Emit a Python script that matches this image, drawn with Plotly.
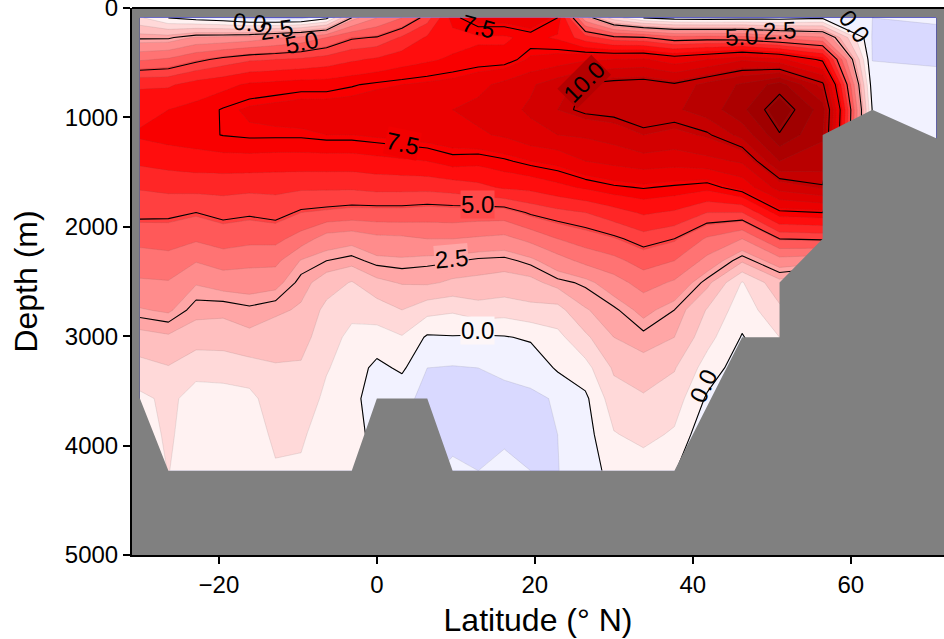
import plotly.graph_objects as go

latitudes = [-30, -26.39, -22.89, -19.47, -16.13, -12.84, -9.59, -6.38, -3.18, 0, 3.18, 6.38, 9.59, 12.84,
             16.13, 19.47, 22.89, 26.39, 30, 33.75, 37.67, 41.81, 46.24, 50.98, 56.44, 62.73, 70.81]
depths = [90, 270, 470, 700, 930, 1160, 1400, 1640, 1870, 2110, 2310, 2510, 2760, 3010, 3290, 3570, 3900, 4230]

# streamfunction (one list per latitude, top to bottom)
psi_by_lat = [
    [.8, 2.4, 4.1, 6.2, 6.75, 7.1, 6.45, 5.65, 5.2, 4.4, 3.9, 3.4, 2.75, 1.85, 1.15, .55, .4, .3],
    [0, 2.4, 4.3, 6.2, 7.0, 7.25, 6.6, 5.75, 5.15, 4.5, 3.95, 3.45, 2.9, 2.0, 1.35, .85, .8, .72],
    [-.3, 2.9, 4.8, 6.6, 7.2, 7.35, 6.7, 5.8, 5.0, 4.3, 3.55, 2.85, 2.3, 1.75, .9, .45, .35, .3],
    [-.5, 2.95, 5.2, 6.8, 7.55, 7.52, 6.75, 5.8, 5.2, 4.5, 3.85, 3.05, 2.25, 1.75, .95, .45, .35, .3],
    [-.9, 3.1, 5.5, 7.1, 7.8, 7.6, 6.75, 5.75, 5.1, 4.4, 3.7, 3.1, 2.4, 1.95, 1.1, .5, .3, .2],
    [-1, 3.4, 5.6, 7.2, 7.9, 7.6, 6.7, 5.75, 5.25, 4.4, 3.7, 3.0, 2.25, 1.65, 1.35, 1.1, .85, .62],
    [-.9, 3.7, 5.7, 7.3, 8, 7.6, 6.7, 5.7, 4.9, 3.9, 2.75, 2.35, 2.0, 1.7, 1.3, 1.1, .8, .6],
    [-.2, 4.2, 5.9, 7.3, 8, 7.7, 6.7, 5.7, 4.8, 3.15, 2.5, 1.75, 1.2, .95, .75, .55, .35, .25],
    [2.5, 4.9, 6.2, 7.45, 8, 7.7, 6.7, 5.7, 4.7, 3.0, 2.35, 1.35, .85, .55, .4, .2, .3, .3],
    [3.5, 5.05, 6.4, 7.6, 8.1, 7.8, 6.8, 5.8, 4.7, 3.3, 2.65, 1.95, 1.0, .45, -.2, -.35, -.25, -.3],
    [4.2, 5.7, 6.7, 7.7, 8.2, 7.9, 6.9, 5.8, 4.7, 3.35, 2.7, 2.15, 1.4, .65, .13, -.55, -.65, -.7],
    [5.3, 6.4, 6.9, 7.8, 8.3, 8, 7, 5.8, 4.6, 3.5, 2.6, 2.2, .95, -.1, -.7, -.85, -.85, -.8],
    [7.3, 6.7, 7.1, 7.9, 8.4, 8.1, 7.3, 5.9, 4.65, 3.5, 2.55, 2, .8, -.05, -.75, -.9, -.85, -.6],
    [8, 6.9, 7.2, 8.2, 8.6, 8.3, 7.2, 6.1, 4.6, 3.4, 2.4, 1.95, 1.1, -.1, -.7, -.85, -.8, -.7],
    [8, 6.9, 7.2, 8.6, 8.9, 8.5, 7.4, 6.4, 4.6, 3.3, 2.35, 1.85, 1, -.05, -.6, -.85, -.8, -.55],
    [8.3, 7.2, 7.8, 9, 9.2, 8.9, 7.7, 6.5, 5.1, 3.7, 2.65, 1.9, 1.2, .1, -.5, -.8, -.85, -.7],
    [7.5, 6.9, 8, 9.5, 9.8, 9.1, 7.9, 6.8, 5.4, 4.2, 3.2, 2.35, 1.15, .5, .1, -.65, -.7, -.72],
    [3, 5.9, 8.3, 10.1, 10.15, 9.2, 8.4, 7.1, 5.6, 4.55, 3.7, 2.6, 2.05, 1.25, .45, -.15, -.3, -.35],
    [1, 5.2, 8.4, 10.3, 10.25, 9.4, 8.6, 7.4, 6, 4.85, 4, 3.2, 2.4, 2.1, 1.5, 1.1, .65, .25],
    [0, 5.05, 8.5, 10.4, 10.5, 9.8, 8.8, 7.55, 6.4, 5.3, 4.5, 3.8, 3, 2.35, 1.85, 1.3, .9, .35],
    [-.3, 4.5, 8, 10.1, 10.4, 9.6, 8.7, 7.4, 6.2, 5, 4.2, 3.4, 2.5, 2.1, 1.45, 1.05, .6, .05],
    [-.4, 4.6, 8.4, 10.7, 10.8, 9.9, 8.9, 7.2, 5.6, 4.1, 3.3, 2.3, 1.35, .95, .4, -.1, -.6, -.9],
    [-.3, 4.5, 9, 11.3, 11.75, 10.7, 9.2, 7.9, 5.6, 3.5, 2.2, .65, .3, -.05, -.4, -.6, -.8, -1],
    [-.3, 4, 8.6, 12.2, 13, 12.45, 11.2, 9.4, 7.35, 5, 3.2, 1.9, 1.25, .7, .3, -.1, -.3, -.5],
    [-.1, 3.6, 7.3, 10.2, 11.6, 11.3, 10.9, 9.9, 7.5, 5.1, 3, 1.5, 1, .6, .3, .1, 0, -.1],
    [-.7, -.75, -.72, -.4, -.05, -.05, -.05, -.05, -.05, -.05, -.05, -.05, -.05, -.05, -.05, -.05, -.05, -.05],
    [-.55, -1, -.8, -.45, -.3, -.2, -.15, -.15, -.15, -.15, -.15, -.15, -.15, -.15, -.15, -.15, -.15, -.15],
]

bathy_lat = [-31, -30, -26.39, -3.18, 0, 6.38, 9.59, 37.67, 46.24, 50.98, 50.98, 56.44, 56.44, 62.73, 70.81, 72, 72, -31]
bathy_depth = [3570, 3570, 4230, 4230, 3570, 3570, 4230, 4230, 3010, 3010, 2510, 2110, 1160, 930, 1190, 1190, 5000, 5000]

label_text = ["0.0", "2.5", "5.0", "7.5", "7.5", "5.0", "2.5", "0.0", "10.0", "5.0", "2.5", "0.0", "0.0"]
label_lat = [-16.1, -12.7, -9.6, 12.9, 3.3, 12.8, 9.5, 12.8, 26.3, 46.2, 51, 60.5, 41.4]
label_depth = [128, 201, 311, 165, 1234, 1792, 2294, 2952, 676, 265, 210, 165, 3455]
label_angle = [5, -8, -12, 15, 12, 0, -5, 0, -45, -3, -3, 52, -65]
label_bg = ["rgba(0,0,0,0)", "rgba(0,0,0,0)", "rgba(0,0,0,0)", "rgba(0,0,0,0)", "#f20000", "#ff4a4a", "#ffa6a6", "#fdf6f8",
            "#b40000", "rgba(0,0,0,0)", "rgba(0,0,0,0)", "rgba(0,0,0,0)", "rgba(0,0,0,0)"]

seismic = [[0, "rgb(0,0,77)"], [.25, "rgb(0,0,255)"], [.5, "rgb(255,255,255)"], [.75, "rgb(255,0,0)"], [1, "rgb(128,0,0)"]]

z = [list(row) for row in zip(*psi_by_lat)]

fig = go.Figure()
fig.add_trace(go.Contour(
    x=latitudes, y=depths, z=z, colorscale=seismic, zmin=-14, zmax=14, showscale=False, hoverinfo="skip",
    contours=dict(coloring="fill", start=-14, end=14, size=0.7),
    line=dict(color="rgba(90,90,90,0.25)", width=0.5, smoothing=0),
))
fig.add_trace(go.Contour(
    x=latitudes, y=depths, z=z, showscale=False, hoverinfo="skip",
    colorscale=[[0, "black"], [1, "black"]],
    contours=dict(coloring="none", start=0, end=12.5, size=2.5),
    line=dict(color="black", width=1.1, smoothing=0),
))
fig.add_trace(go.Scatter(
    x=bathy_lat, y=bathy_depth, mode="lines", fill="toself", fillcolor="#808080",
    line=dict(width=0, color="#808080"), hoverinfo="skip", showlegend=False,
))

for t, la, d, ang, bg in zip(label_text, label_lat, label_depth, label_angle, label_bg):
    fig.add_annotation(x=la, y=d, text=t, showarrow=False, textangle=ang, bgcolor=bg, borderpad=0,
                       font=dict(size=24, color="black", family="Liberation Sans"))

axis_style = dict(showgrid=False, zeroline=False, showline=True, linecolor="black", linewidth=2, mirror=False,
                  ticks="outside", ticklen=7, tickwidth=1.5, tickcolor="black",
                  tickfont=dict(size=24, color="black", family="Liberation Sans"))
fig.update_xaxes(range=[-31, 71.8], tickvals=[-20, 0, 20, 40, 60], ticktext=["\u221220", "0", "20", "40", "60"],
                 title=dict(text="Latitude (\u00b0 N)", font=dict(size=32, color="black", family="Liberation Sans"), standoff=12),
                 **axis_style)
fig.update_yaxes(range=[5000, 0], tickvals=[0, 1000, 2000, 3000, 4000, 5000], ticklabeloverflow="allow",
                 automargin="left",
                 title=dict(text="Depth (m)", font=dict(size=32, color="black", family="Liberation Sans"), standoff=18),
                 **axis_style)
fig.add_shape(type="line", xref="paper", yref="paper", x0=0, x1=1, y0=1, y1=1, line=dict(color="black", width=2))
fig.update_layout(width=944, height=639, margin=dict(l=132, r=0, t=8, b=84), plot_bgcolor="#808080",
                  paper_bgcolor="white", showlegend=False)
fig.write_html("out.html", config={"displayModeBar": False}, post_script="document.body.style.margin='0';")
